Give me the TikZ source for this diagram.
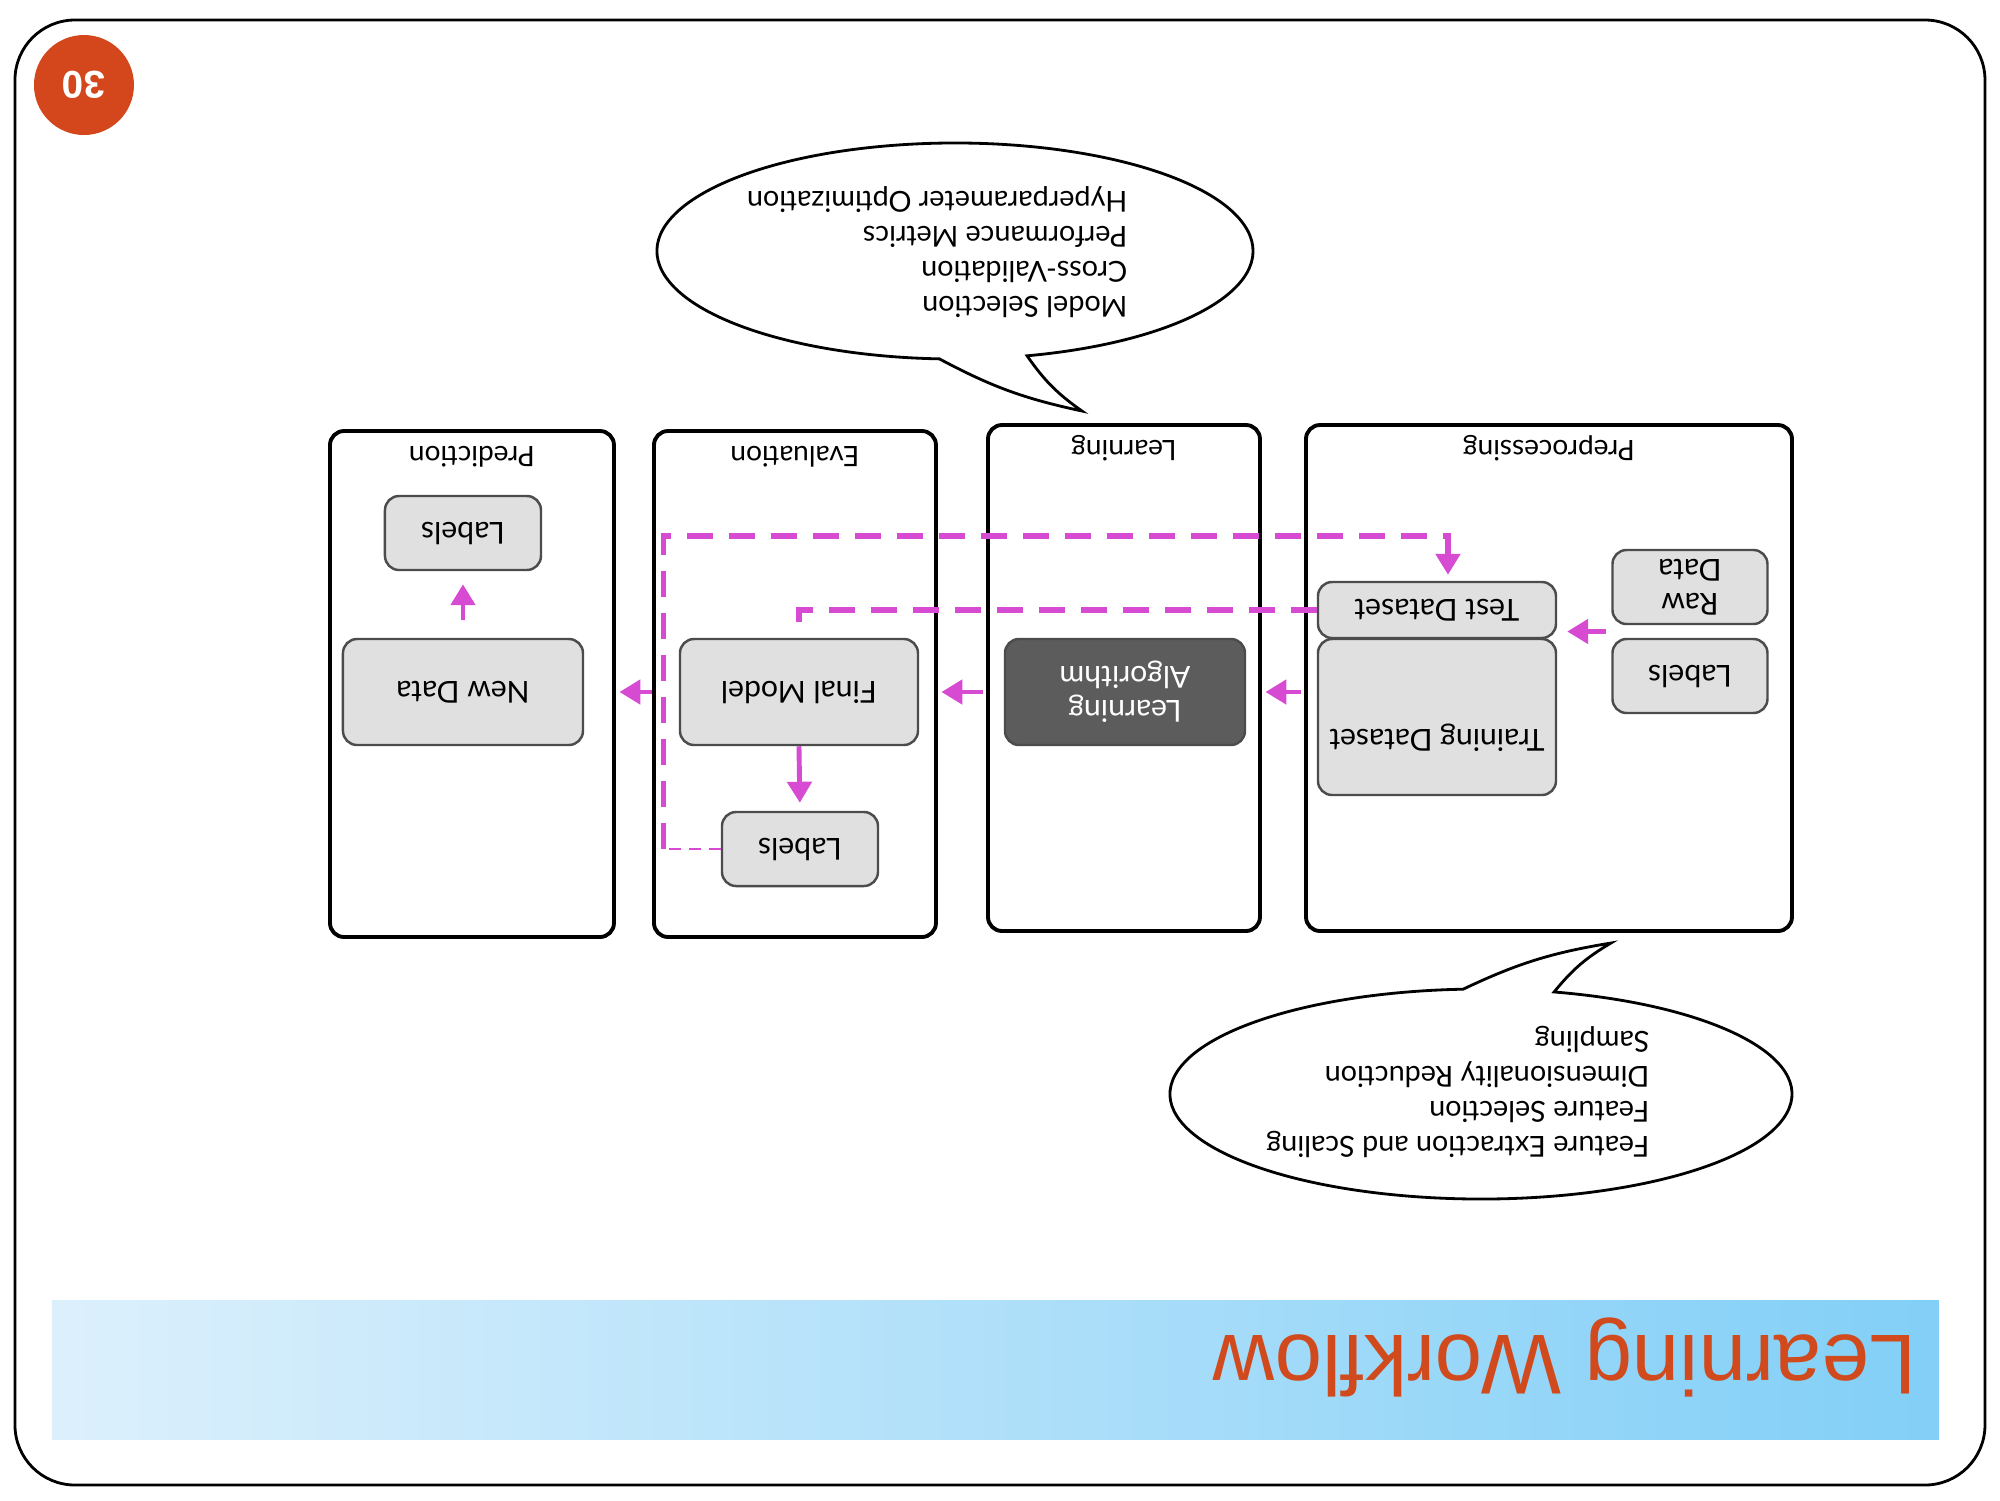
\documentclass[tikz,border=0pt]{standalone}
\usepackage{fontspec}
\setmainfont{Lato}
\newfontfamily\headfont{Liberation Sans}
\usetikzlibrary{arrows.meta,calc,positioning}

\definecolor{flowpink}{HTML}{D64BD2}
\definecolor{boxgray}{HTML}{E0E0E0}
\definecolor{algogray}{HTML}{5C5C5C}
\definecolor{badge}{HTML}{D4471C}
\definecolor{titleorange}{HTML}{D04A1E}
\definecolor{bandstrong}{HTML}{82CFF7}
\definecolor{bandmid}{HTML}{BFE6FA}
\definecolor{bandlight}{HTML}{DCF0FC}

\tikzset{
  panel/.style={draw=black, line width=1.1pt, fill=white, rounded corners=4pt},
  paneltitle/.style={font=\fontsize{8}{9}\selectfont, anchor=base, inner sep=0pt},
  databox/.style={draw=black!70, line width=0.7pt, fill=boxgray, rounded corners=4pt,
    align=center, inner sep=0pt, font=\fontsize{8.6}{9.6}\selectfont},
  algobox/.style={databox, fill=algogray, text=white},
  boxtext/.style={font=\fontsize{8.6}{9.6}\selectfont, inner sep=0pt},
  flow/.style={draw=flowpink, line width=1.4pt, -{Triangle[length=2.1mm, width=2.4mm]}},
  feed/.style={draw=flowpink, line width=1.5pt, dash pattern=on 2.6mm off 1.6mm},
  feedthin/.style={draw=flowpink, line width=0.8pt, dash pattern=on 1.2mm off 0.8mm},
  bubble/.style={draw=black, line width=0.8pt, fill=white},
  notes/.style={font=\fontsize{8.2}{9.9}\selectfont, align=left, anchor=west, inner sep=0pt},
}

\begin{document}
\begin{tikzpicture}[rotate=180, transform shape]
  % Slide
  \useasboundingbox (0,0) rectangle (20,15);
  \fill[white] (0,0) rectangle (20,15);
  \draw[line width=0.8pt, rounded corners=0.6cm] (0.15,0.20) rectangle (19.85,14.85);
  \shade[left color=bandlight, middle color=bandmid, right color=bandstrong]
    (0.61,13.00) rectangle (19.48,14.39);
  \node[anchor=base west, inner sep=0pt, text=titleorange,
    font=\headfont\fontsize{24.2}{25}\selectfont] (slideTitle) at (0.83,13.35) {Learning Workflow};
  \node[circle, fill=badge, minimum size=1.0cm, inner sep=0pt, text=white,
    font=\headfont\bfseries\fontsize{11}{11}\selectfont] (slideNo) at (19.16,0.85) {30};

  % Stages
  \node[panel, minimum width=4.86cm, minimum height=5.06cm] (prePanel) at (4.51,6.78) {};
  \node[panel, minimum width=2.72cm, minimum height=5.06cm] (learnPanel) at (8.76,6.78) {};
  \node[panel, minimum width=2.82cm, minimum height=5.06cm] (evalPanel) at (12.05,6.84) {};
  \node[panel, minimum width=2.84cm, minimum height=5.06cm] (predPanel) at (15.28,6.84) {};
  \node[paneltitle] (preTitle) at ([yshift=0.17cm]prePanel.south) {Preprocessing};
  \node[paneltitle] (learnTitle) at ([yshift=0.17cm]learnPanel.south) {Learning};
  \node[paneltitle] (evalTitle) at ([yshift=0.17cm]evalPanel.south) {Evaluation};
  \node[paneltitle] (predTitle) at ([yshift=0.17cm]predPanel.south) {Prediction};

  % Boxes
  \node[databox, minimum width=1.55cm, minimum height=0.74cm] (rawData) at (3.10,5.87) {Raw\\Data};
  \node[databox, minimum width=1.55cm, minimum height=0.74cm] (preLabels) at (3.10,6.76) {Labels};
  \node[databox, minimum width=2.38cm, minimum height=0.56cm] (testDS) at (5.63,6.10) {Test Dataset};
  \node[databox, minimum width=2.38cm, minimum height=1.56cm] (trainDS) at (5.63,7.17) {};
  \node[boxtext] (trainText) at (5.63,7.38) {Training Dataset};
  \node[algobox, minimum width=2.40cm, minimum height=1.06cm] (learnAlgo) at (8.75,6.92) {Learning\\Algorithm};
  \node[databox, minimum width=2.38cm, minimum height=1.06cm] (finalModel) at (12.01,6.92) {Final Model};
  \node[databox, minimum width=1.56cm, minimum height=0.74cm] (evalLabels) at (12.00,8.49) {Labels};
  \node[databox, minimum width=2.40cm, minimum height=1.06cm] (newData) at (15.37,6.92) {New Data};
  \node[databox, minimum width=1.56cm, minimum height=0.74cm] (predLabels) at (15.37,5.33) {Labels};

  % Main flow
  \coordinate (split) at ($(rawData.north east)!0.5!(preLabels.south east)$);
  \draw[flow] ([xshift=0.05cm]split) -- ([xshift=-0.10cm]split -| trainDS.west);
  \draw[flow, shorten <=1pt, shorten >=1pt] (prePanel.east |- learnAlgo) -- (learnPanel.west |- learnAlgo);
  \draw[flow, shorten <=1pt, shorten >=1pt] (learnPanel.east |- learnAlgo) -- (evalPanel.west |- learnAlgo);
  \draw[flow, shorten >=1pt] (evalPanel.east |- finalModel) -- (predPanel.west |- finalModel);
  \draw[flow, shorten >=0.08cm] (finalModel.north) -- (evalLabels.south);
  \draw[flow, shorten <=0.18cm, shorten >=0.13cm] (newData.south) -- (predLabels.north);

  % Test data loops
  \draw[feed] (testDS.east) -- (testDS.east -| finalModel.south) -- (finalModel.south);
  \draw[feedthin] (evalLabels.east) -- ++(0.57,0) coordinate (loopCorner);
  \draw[feed, -{Triangle[length=2.1mm, width=2.4mm]}, shorten >=0.06cm]
    (loopCorner) -- ++(0,-3.13) -| ([xshift=-0.11cm]testDS.south);

  % Speech bubbles
  \coordinate (modelBubble) at (10.45,2.51);
  \draw[bubble] ($(modelBubble)+(87:2.98cm and 1.08cm)$) to[bend right=8] (9.18,4.11)
    to[bend left=10] ($(modelBubble)+(104:2.98cm and 1.08cm)$)
    arc[start angle=104, end angle=447, x radius=2.98cm, y radius=1.08cm] -- cycle;
  \node[notes] (modelNotes) at (8.72,2.52)
    {Model Selection\\Cross-Validation\\Performance Metrics\\Hyperparameter Optimization};

  \coordinate (featBubble) at (5.19,10.94);
  \draw[bubble] ($(featBubble)+(273.3:3.11cm and 1.05cm)$) to[bend left=8] (3.89,9.43)
    to[bend right=10] ($(featBubble)+(256.4:3.11cm and 1.05cm)$)
    arc[start angle=256.4, end angle=-86.7, x radius=3.11cm, y radius=1.05cm] -- cycle;
  \node[notes] (featNotes) at (3.50,10.92)
    {Feature Extraction and Scaling\\Feature Selection\\Dimensionality Reduction\\Sampling};
\end{tikzpicture}
\end{document}
